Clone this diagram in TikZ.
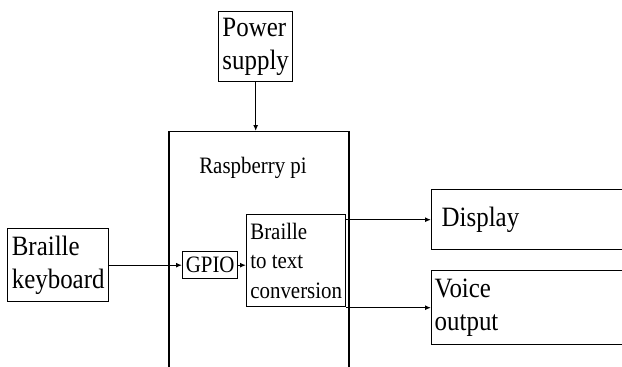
\documentclass[tikz,border=0pt]{standalone}
\usepackage{fontspec}
\setmainfont{Liberation Serif}[FakeStretch=0.89]
\usetikzlibrary{arrows.meta, positioning}

\tikzset{
  block/.style={draw, line width=1.4pt, inner sep=2pt, align=left},
  bigtext/.style={font=\fontsize{28}{33}\selectfont},
  smalltext/.style={font=\fontsize{23.5}{29.5}\selectfont},
  link/.style={line width=1.2pt, -{Latex[length=6pt,width=5pt]}},
}

\begin{document}
\begin{tikzpicture}[x=1pt, y=-1pt]
    % Frame
    \useasboundingbox (0,0) rectangle (622,367);
    \clip (0,0) rectangle (622,367);

    % Power supply
    \node[block, bigtext, anchor=north west, minimum width=74pt, minimum height=70pt] (power) at (218,11) {Power\\supply};

    % Raspberry pi board
    \node[block, anchor=north, minimum width=180pt, minimum height=300pt] (rpi) at (259,131) {};
    \node[smalltext] (rpilabel) at (253,168) {Raspberry pi};

    % Input side
    \node[block, bigtext, anchor=north west, minimum width=101pt, minimum height=73pt] (keyboard) at (7,228) {Braille\\keyboard};
    \node[block, smalltext, anchor=north west, inner sep=1pt, minimum width=55pt, minimum height=27pt] (gpio) at (182,251) {GPIO};
    \node[block, smalltext, anchor=north west, inner sep=2pt, minimum width=99pt, minimum height=92pt] (conv) at (246,214) {Braille\\to text\\conversion};

    % Output side
    \node[block, bigtext, anchor=north west, inner xsep=10pt, text width=190pt, minimum height=60pt] (display) at (431,189) {Display};
    \node[block, bigtext, anchor=north west, inner xsep=3pt, text width=200pt, minimum height=74pt] (voice) at (431,270) {Voice\\output};

    % Connections
    \draw[link] (power.south) -- (power.south |- rpi.north);
    \draw[link] (keyboard.east) -- (gpio.west);
    \draw[link] (gpio.east) -- (gpio.east -| conv.west);
    \draw[link] (display.west -| conv.east) -- (display.west);
    \draw[link] (voice.west -| conv.east) -- (voice.west);
\end{tikzpicture}
\end{document}
